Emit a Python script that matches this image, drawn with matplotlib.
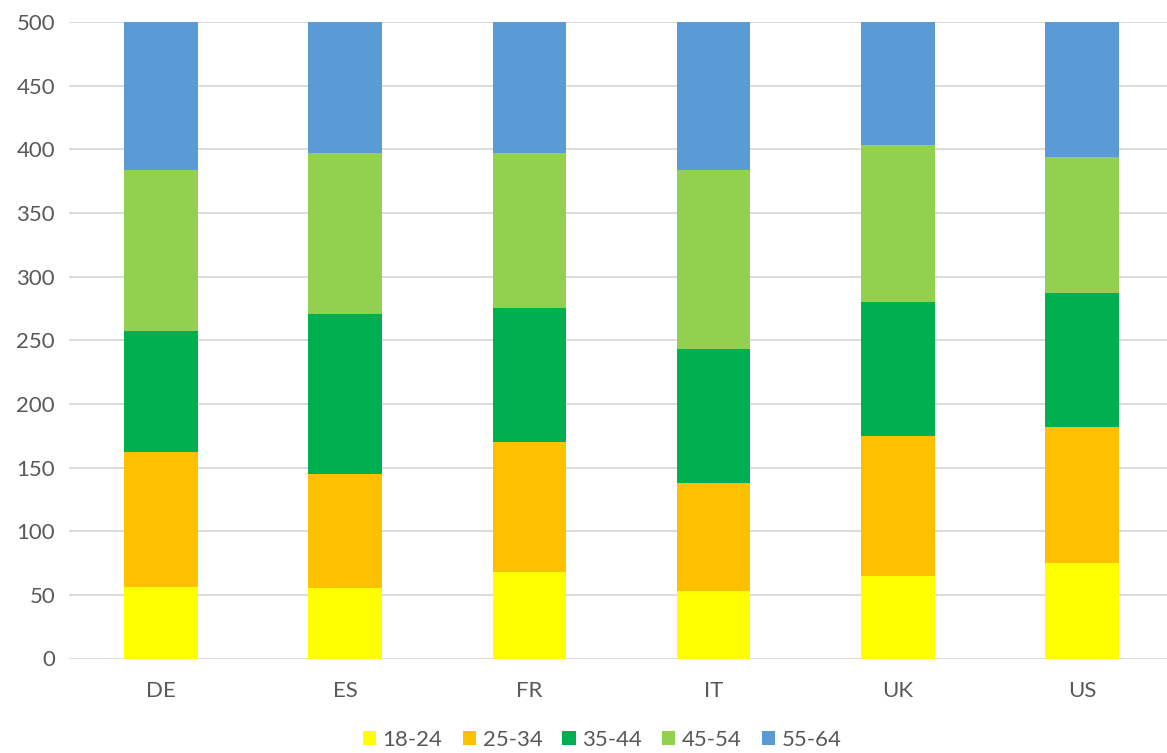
import matplotlib.pyplot as plt
import numpy as np

# Dados
countries = ["DE", "ES", "FR", "IT", "UK", "US"]
ages = ["18-24", "25-34", "35-44", "45-54", "55-64"]
v18_24 = [56, 55, 68, 53, 65, 75]
v25_34 = [106, 90, 102, 85, 110, 107]
v35_44 = [95, 126, 105, 105, 105, 105]
v45_54 = [127, 126, 122, 141, 123, 107]
v55_64 = [116, 103, 103, 116, 97, 106]
colors = ["#FFFF00", "#FFC000", "#00B050", "#92D050", "#5B9BD5"]

series = [v18_24, v25_34, v35_44, v45_54, v55_64]

plt.rcParams["font.family"] = ["Lato", "DejaVu Sans"]

fig = plt.figure(figsize=(11.67, 7.53), dpi=100)
ax = fig.add_axes([69 / 1167, 94.5 / 753, 1105 / 1167, 636.5 / 753])

x = np.arange(len(countries))
bottom = np.zeros(len(countries))
for vals, lab, c in zip(series, ages, colors):
    ax.bar(x, vals, 0.4, bottom=bottom, color=c, label=lab, zorder=3)
    bottom += np.array(vals)

ax.set_xlim(-0.5, len(countries) - 0.5)
ax.set_ylim(0, 500)
ax.set_yticks(range(0, 501, 50))
ax.set_xticks(x)
ax.set_xticklabels(countries)
ax.grid(axis="y", color="#d9d9d9", linewidth=1.3, zorder=0)
for s in ax.spines.values():
    s.set_visible(False)
ax.tick_params(length=0, labelsize=16, colors="#595959")
ax.tick_params(axis="x", pad=16)
ax.tick_params(axis="y", pad=10)

fig.legend(loc="lower center", ncol=5, frameon=False, fontsize=16,
           handlelength=0.6, handleheight=0.6, handletextpad=0.3,
           columnspacing=0.9, labelcolor="#595959",
           bbox_to_anchor=(0.516, -0.022))

fig.savefig("out.png", dpi=100)
